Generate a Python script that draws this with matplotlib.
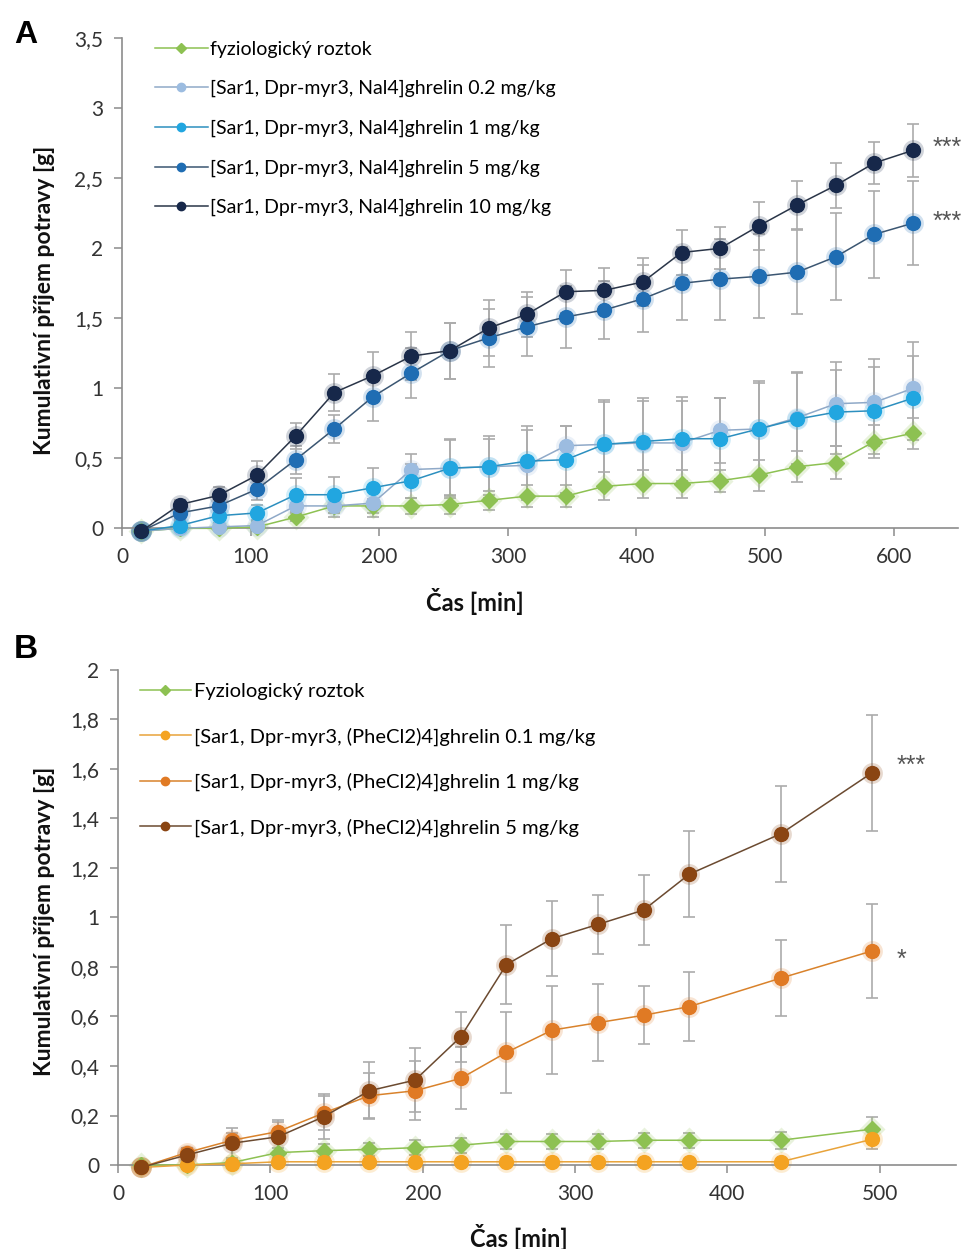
import matplotlib
matplotlib.use("Agg")
from matplotlib import pyplot as plt
from matplotlib.ticker import MultipleLocator, FuncFormatter

FONT = ['Lato', 'DejaVu Sans']
plt.rcParams['font.family'] = FONT

# ---------------- panel A data ----------------
time_a = [15, 45, 75, 105, 135, 165, 195, 225, 255, 285, 315,
          345, 375, 405, 435, 465, 495, 525, 555, 585, 615]
ctrl_a = [-0.02, 0.0, 0.0, 0.01, 0.08, 0.16, 0.16, 0.16, 0.17, 0.2, 0.23,
          0.23, 0.3, 0.32, 0.32, 0.34, 0.38, 0.44, 0.47, 0.62, 0.68]
nal_02 = [-0.02, 0.0, 0.01, 0.02, 0.16, 0.16, 0.18, 0.42, 0.43, 0.44, 0.45,
          0.59, 0.6, 0.61, 0.61, 0.7, 0.71, 0.79, 0.89, 0.9, 1.0]
nal_1 = [-0.02, 0.02, 0.09, 0.11, 0.24, 0.24, 0.29, 0.34, 0.43, 0.44, 0.48,
         0.49, 0.6, 0.62, 0.64, 0.64, 0.71, 0.78, 0.83, 0.84, 0.93]
nal_5 = [-0.02, 0.11, 0.16, 0.28, 0.49, 0.71, 0.94, 1.11, 1.27, 1.36, 1.44,
         1.51, 1.56, 1.64, 1.75, 1.78, 1.80, 1.83, 1.94, 2.10, 2.18]
nal_10 = [-0.02, 0.17, 0.235, 0.38, 0.66, 0.97, 1.09, 1.23, 1.27, 1.43, 1.53,
          1.69, 1.70, 1.76, 1.97, 2.00, 2.16, 2.31, 2.45, 2.61, 2.70]

err_ctrl_a = [0, 0.01, 0.01, 0.02, 0.03, 0.05, 0.05, 0.06, 0.07, 0.07, 0.08,
              0.08, 0.1, 0.1, 0.1, 0.08, 0.11, 0.11, 0.12, 0.12, 0.11]
err_02 = [0, 0.02, 0.03, 0.04, 0.08, 0.08, 0.1, 0.11, 0.2, 0.2, 0.25,
          0.14, 0.3, 0.3, 0.3, 0.23, 0.33, 0.33, 0.3, 0.31, 0.33]
err_1 = [0, 0.03, 0.05, 0.06, 0.12, 0.13, 0.14, 0.12, 0.21, 0.22, 0.25,
         0.24, 0.32, 0.31, 0.3, 0.29, 0.34, 0.33, 0.3, 0.31, 0.3]
err_5 = [0, 0.04, 0.06, 0.08, 0.1, 0.1, 0.17, 0.18, 0.2, 0.21, 0.21,
         0.22, 0.21, 0.24, 0.26, 0.29, 0.3, 0.3, 0.31, 0.31, 0.3]
err_10 = [0, 0.03, 0.06, 0.1, 0.09, 0.13, 0.17, 0.17, 0.2, 0.2, 0.16,
          0.155, 0.16, 0.17, 0.16, 0.15, 0.17, 0.17, 0.16, 0.15, 0.19]

labels_a = ['fyziologický roztok',
            '[Sar1, Dpr-myr3, Nal4]ghrelin 0.2 mg/kg',
            '[Sar1, Dpr-myr3, Nal4]ghrelin 1 mg/kg',
            '[Sar1, Dpr-myr3, Nal4]ghrelin 5 mg/kg',
            '[Sar1, Dpr-myr3, Nal4]ghrelin 10 mg/kg']
signif_a = ['***', '***']   # 10 mg/kg, 5 mg/kg

# ---------------- panel B data ----------------
time_b = [15, 45, 75, 105, 135, 165, 195, 225, 255, 285, 315, 345, 375, 435, 495]
ctrl_b = [0.0, 0.0, 0.01, 0.05, 0.058, 0.063, 0.07, 0.08, 0.095, 0.095,
          0.095, 0.1, 0.1, 0.1, 0.145]
phe_01 = [-0.01, 0.0, 0.005, 0.013, 0.013, 0.013, 0.013, 0.013, 0.013,
          0.013, 0.013, 0.013, 0.013, 0.013, 0.104]
phe_1 = [-0.01, 0.05, 0.10, 0.135, 0.21, 0.28, 0.30, 0.35, 0.455, 0.545,
         0.575, 0.605, 0.64, 0.755, 0.865]
phe_5 = [-0.01, 0.04, 0.088, 0.114, 0.195, 0.30, 0.343, 0.518, 0.81, 0.915,
         0.972, 1.03, 1.175, 1.338, 1.585]

err_ctrl_b = [0, 0.01, 0.01, 0.02, 0.025, 0.025, 0.03, 0.03, 0.03, 0.03,
              0.03, 0.03, 0.03, 0.035, 0.05]
err_p01 = [0, 0, 0.005, 0.005, 0.005, 0.005, 0.005, 0.005, 0.005, 0.005,
           0.005, 0.005, 0.005, 0.005, 0.04]
err_p1 = [0, 0.02, 0.03, 0.04, 0.07, 0.09, 0.12, 0.125, 0.163, 0.177,
          0.155, 0.117, 0.14, 0.155, 0.19]
err_p5 = [0, 0.02, 0.06, 0.066, 0.09, 0.115, 0.13, 0.1, 0.16, 0.15,
          0.12, 0.14, 0.175, 0.195, 0.235]

labels_b = ['Fyziologický roztok',
            '[Sar1, Dpr-myr3, (PheCl2)4]ghrelin 0.1 mg/kg',
            '[Sar1, Dpr-myr3, (PheCl2)4]ghrelin 1 mg/kg',
            '[Sar1, Dpr-myr3, (PheCl2)4]ghrelin 5 mg/kg']
signif_b = ['***', '*']     # 5 mg/kg, 1 mg/kg

ERR_COL = '#ABABAB'
AX_COL = '#8C8C8C'
TXT_COL = '#333333'
STAR_COL = '#555555'
STAR_FONT = ['Liberation Sans', 'DejaVu Sans']


def series(ax, t, y, e, col, lcol, marker, ms, label):
    ax.errorbar(t, y, yerr=e, fmt='none', ecolor=ERR_COL, elinewidth=1.2,
                capsize=4, capthick=1.2, zorder=1, clip_on=False)
    # soft glow under the markers
    ax.plot(t, y, ls='none', marker=marker, ms=ms + 5, mfc=col, mec='none',
            alpha=0.2, zorder=2, clip_on=False)
    ax.plot(t, y, color=lcol, lw=1.1, marker=marker, ms=ms, mfc=col,
            mec=col, label=label, zorder=3, clip_on=False)


def style_axes(ax, ymax, ystep, xmax):
    ax.set_xlim(0, xmax)
    ax.set_ylim(0, ymax)
    ax.xaxis.set_major_locator(MultipleLocator(100))
    ax.yaxis.set_major_locator(MultipleLocator(ystep))
    ax.yaxis.set_major_formatter(FuncFormatter(lambda v, p: ('%g' % round(v, 2)).replace('.', ',')))
    for s in ['top', 'right']:
        ax.spines[s].set_visible(False)
    for s in ['left', 'bottom']:
        ax.spines[s].set_color(AX_COL)
        ax.spines[s].set_linewidth(1.2)
    ax.tick_params(direction='out', length=5.5, width=1.1, color=AX_COL,
                   labelsize=15, labelcolor=TXT_COL)
    ax.tick_params(axis='x', pad=8)
    ax.tick_params(axis='y', pad=8)
    ax.set_ylabel('Kumulativní příjem potravy [g]', fontsize=16.5,
                  fontweight='bold', color='#111111')
    ax.set_xlabel('Čas [min]', fontsize=17, fontweight='bold', color='#111111')


fig = plt.figure(figsize=(9.74, 12.49), dpi=100)

# ---------------- panel A ----------------
axa = fig.add_axes([0.1253, 0.577, 0.8583, 0.3923])
series(axa, time_a, ctrl_a, err_ctrl_a, '#8DC152', '#8DC152', 'D', 8.5, labels_a[0])
series(axa, time_a, nal_02, err_02, '#9CBCE0', '#8FA9C8', 'o', 10, labels_a[1])
series(axa, time_a, nal_1, err_1, '#21A6E0', '#2C8FBF', 'o', 10, labels_a[2])
series(axa, time_a, nal_5, err_5, '#1F6DB3', '#3B5672', 'o', 10, labels_a[3])
series(axa, time_a, nal_10, err_10, '#17284A', '#2A3548', 'o', 10, labels_a[4])
style_axes(axa, 3.5, 0.5, 650)
axa.yaxis.set_label_coords(-0.080, 0.465)
axa.xaxis.set_label_coords(0.422, -0.122)
axa.text(630, 2.67, signif_a[0], fontsize=18, color=STAR_COL,
         family=STAR_FONT, va='baseline', ha='left')
axa.text(630, 2.14, signif_a[1], fontsize=18, color=STAR_COL,
         family=STAR_FONT, va='baseline', ha='left')
axa.legend(loc='upper left', bbox_to_anchor=(0.0185, 1.031), frameon=False,
           fontsize=14, handlelength=2.7, handletextpad=0.15,
           labelspacing=1.15, markerscale=0.6)
fig.text(0.026, 0.972, 'A', fontsize=23, fontweight='bold',
         family=['Liberation Sans', 'DejaVu Sans'], va='center', ha='center')

# ---------------- panel B ----------------
axb = fig.add_axes([0.1211, 0.06725, 0.8604, 0.39635])
series(axb, time_b, ctrl_b, err_ctrl_b, '#8DC152', '#8DC152', 'D', 8.5, labels_b[0])
series(axb, time_b, phe_01, err_p01, '#F4A321', '#E8A33A', 'o', 10, labels_b[1])
series(axb, time_b, phe_1, err_p1, '#E07A24', '#D9822B', 'o', 10, labels_b[2])
series(axb, time_b, phe_5, err_p5, '#8A4513', '#6B4A30', 'o', 10, labels_b[3])
style_axes(axb, 2.0, 0.2, 550)
axb.yaxis.set_label_coords(-0.075, 0.493)
axb.xaxis.set_label_coords(0.4785, -0.119)
axb.text(511, 1.585, signif_b[0], fontsize=18, color=STAR_COL,
         family=STAR_FONT, va='baseline', ha='left')
axb.text(511, 0.80, signif_b[1], fontsize=18, color=STAR_COL,
         family=STAR_FONT, va='baseline', ha='left')
axb.legend(loc='upper left', bbox_to_anchor=(0.005, 1.010), frameon=False,
           fontsize=14.5, handlelength=2.5, handletextpad=0.15,
           labelspacing=1.35, markerscale=0.6)
fig.text(0.027, 0.480, 'B', fontsize=24, fontweight='bold',
         family=['Liberation Sans', 'DejaVu Sans'], va='center', ha='center')

fig.savefig('out.png', dpi=100, facecolor='white')
